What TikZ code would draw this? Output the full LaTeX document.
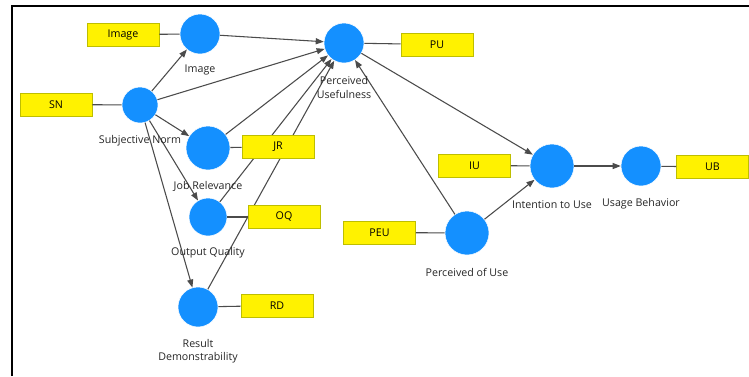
\documentclass[tikz,border=0pt]{standalone}
\usepackage{fontspec}
\setmainfont{Open Sans}
\usetikzlibrary{arrows.meta}
\definecolor{lvblue}{RGB}{20,144,255}
\definecolor{mvedge}{RGB}{190,190,0}
\definecolor{pathgray}{RGB}{75,75,75}
\begin{document}
\begin{tikzpicture}[x=0.75pt,y=-0.75pt,
		lv/.style={circle,fill=lvblue,draw=white,line width=0.4pt,minimum size=#1*0.75pt,inner sep=0pt},
		lv/.default=40,
		mv/.style={draw=mvedge,fill=yellow,minimum width=54pt,minimum height=17pt,inner sep=0pt,font=\fontsize{8}{9}\selectfont},
		lbl/.style={align=center,inner sep=0pt,font=\fontsize{8}{10}\selectfont,text=black!85},
		link/.style={draw=pathgray,line width=0.8pt},
		path/.style={link,-{Triangle[length=6pt,width=4.5pt]}}]
		\useasboundingbox (0,0) rectangle (749,376);
		\draw[line width=1.5pt] (12,376) -- (12,5.5) -- (749,5.5);
		\node[lv=40] (image) at (200,34) {};
		\node[lv=36] (sn) at (140,105) {};
		\node[lv=40] (pu) at (344,43) {};
		\node[lv=44] (jr) at (208,148) {};
		\node[lv=38] (oq) at (208,217) {};
		\node[lv=40] (rd) at (198,307) {};
		\node[lv=44] (iu) at (552,166) {};
		\node[lv=40] (ub) at (641,166) {};
		\node[lv=44] (peu) at (467,233) {};
		\draw[path] (sn) -- (image);
		\draw[path] (sn) -- (pu);
		\draw[path] (sn) -- (jr);
		\draw[path] (sn) -- (oq);
		\draw[path] (sn) -- (rd);
		\draw[path] (image) -- (pu);
		\draw[path] (jr) -- (pu);
		\draw[path] (oq) -- (pu);
		\draw[path] (rd) -- (pu);
		\draw[path] (peu) -- (pu);
		\draw[path] (peu) -- (iu);
		\draw[path] (pu) -- (iu);
		\draw[path] (iu) -- (ub);
		\node[mv] (imagebox) at (123,34.5) {Image};
		\node[mv] (snbox) at (56,104.5) {SN};
		\node[mv] (pubox) at (437,44.5) {PU};
		\node[mv] (jrbox) at (278,146.5) {JR};
		\node[mv] (oqbox) at (284,217) {OQ};
		\node[mv] (rdbox) at (277,305.5) {RD};
		\node[mv] (iubox) at (474.5,165.5) {IU};
		\node[mv] (ubbox) at (712.5,167) {UB};
		\node[mv] (peubox) at (379.5,232.5) {PEU};
		\draw[link] (imagebox) -- (image);
		\draw[link] (snbox) -- (sn);
		\draw[link] (pubox) -- (pu);
		\draw[link] (jrbox) -- (jr);
		\draw[link] (oqbox) -- (oq);
		\draw[link] (rdbox) -- (rd);
		\draw[link] (iubox) -- (iu);
		\draw[link] (ubbox) -- (ub);
		\draw[link] (peubox) -- (peu);
		\path
		(200,70) node[lbl] (imagelbl) {Image}
		(140,141) node[lbl] (snlbl) {Subjective Norm}
		(344,87.5) node[lbl] (pulbl) {Perceived\\Usefulness}
		(208,186) node[lbl] (jrlbl) {Job Relevance}
		(208,253) node[lbl] (oqlbl) {Output Quality}
		(198,351) node[lbl] (rdlbl) {Result\\Demonstrability}
		(552,205) node[lbl] (iulbl) {Intention to Use}
		(641,204) node[lbl] (ublbl) {Usage Behavior}
		(467,272) node[lbl] (peulbl) {Perceived of Use}
		;
	\end{tikzpicture}
\end{document}
